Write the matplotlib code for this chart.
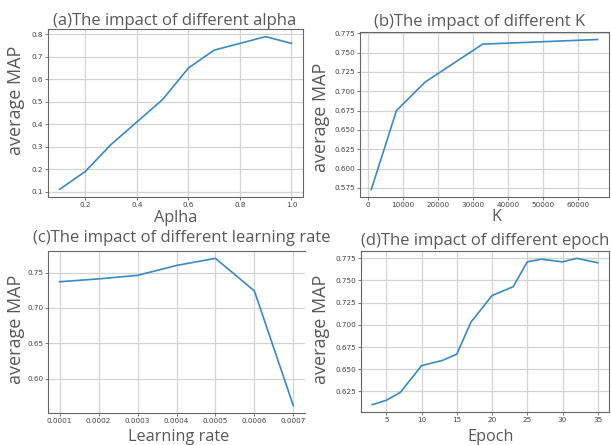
import matplotlib
matplotlib.use("Agg")
import matplotlib.pyplot as plt

# data
alpha = [0.1, 0.2, 0.3, 0.4, 0.5, 0.6, 0.7, 0.8, 0.9, 1.0]
alpha_map = [0.11, 0.19, 0.31, 0.41, 0.51, 0.65, 0.73, 0.76, 0.79, 0.76]

k_values = [1024, 8192, 16384, 32768, 65536]
k_map = [0.573, 0.675, 0.712, 0.761, 0.767]

lr_values = [0.0001, 0.0002, 0.0003, 0.0004, 0.0005, 0.0006, 0.0007]
lr_map = [0.737, 0.741, 0.746, 0.760, 0.770, 0.724, 0.562]
lr_ticks = ["0.0001", "0.0002", "0.0003", "0.0004", "0.0005", "0.0006", "0.0007"]

epochs = [3, 5, 7, 10, 13, 15, 17, 20, 23, 25, 27, 30, 32, 35]
epoch_map = [0.610, 0.615, 0.624, 0.654, 0.660, 0.667, 0.703, 0.733,
             0.743, 0.771, 0.774, 0.771, 0.775, 0.770]

W, H = 611, 445
BIG = "Open Sans"
TXT = "#595959"
LINE = "#3c89c0"

fig = plt.figure(figsize=(W / 100, H / 100), dpi=100)


def box(left, top, right, bottom):
    return [left / W, 1 - bottom / H, (right - left) / W, (bottom - top) / H]


def label(x, y, s, size, **kw):
    fig.text(x / W, 1 - y / H, s, fontsize=size, family=BIG, color=TXT, **kw)


def panel(rect, x, y):
    ax = fig.add_axes(box(*rect))
    ax.plot(x, y, color=LINE, lw=1.2)
    ax.grid(True, color="#d3d3d3", lw=0.9)
    ax.set_axisbelow(True)
    ax.tick_params(labelsize=5.2, labelcolor="#444444", length=2, width=0.6,
                   color="#666666", pad=1.5)
    for s in ax.spines.values():
        s.set_color("#666666")
        s.set_linewidth(0.8)
    return ax


ax = panel((48, 29, 303, 197), alpha, alpha_map)
label(175, 25, "(a)The impact of different alpha", 12, ha="center", va="baseline")
label(176, 222, "Aplha", 11.7, ha="center", va="baseline")
label(16, 100, "average MAP", 13, ha="center", va="center", rotation=90)

ax = panel((360, 32, 609, 197), k_values, k_map)
ax.set_xticks([0, 10000, 20000, 30000, 40000, 50000, 60000])
ax.set_xlim(-2200, 68800)
label(480, 26, "(b)The impact of different K", 12, ha="center", va="baseline")
label(496, 221, "K", 11.7, ha="center", va="baseline")
label(321, 117, "average MAP", 13, ha="center", va="center", rotation=90)

ax = panel((48, 251, 305, 413), lr_values, lr_map)
ax.set_xticks(lr_values)
ax.set_xticklabels(lr_ticks)
ax.spines["right"].set_visible(False)
label(182, 242, "(c)The impact of different learning rate", 12, ha="center", va="baseline")
label(179, 441, "Learning rate", 11.7, ha="center", va="baseline")
label(16, 329, "average MAP", 13, ha="center", va="center", rotation=90)

ax = panel((361, 251, 609, 412), epochs, epoch_map)
ax.set_xticks([5, 10, 15, 20, 25, 30, 35])
label(485, 245, "(d)The impact of different epoch", 12, ha="center", va="baseline")
label(491, 441, "Epoch", 11.7, ha="center", va="baseline")
label(321, 329, "average MAP", 13, ha="center", va="center", rotation=90)

fig.savefig("out.png", dpi=100)
